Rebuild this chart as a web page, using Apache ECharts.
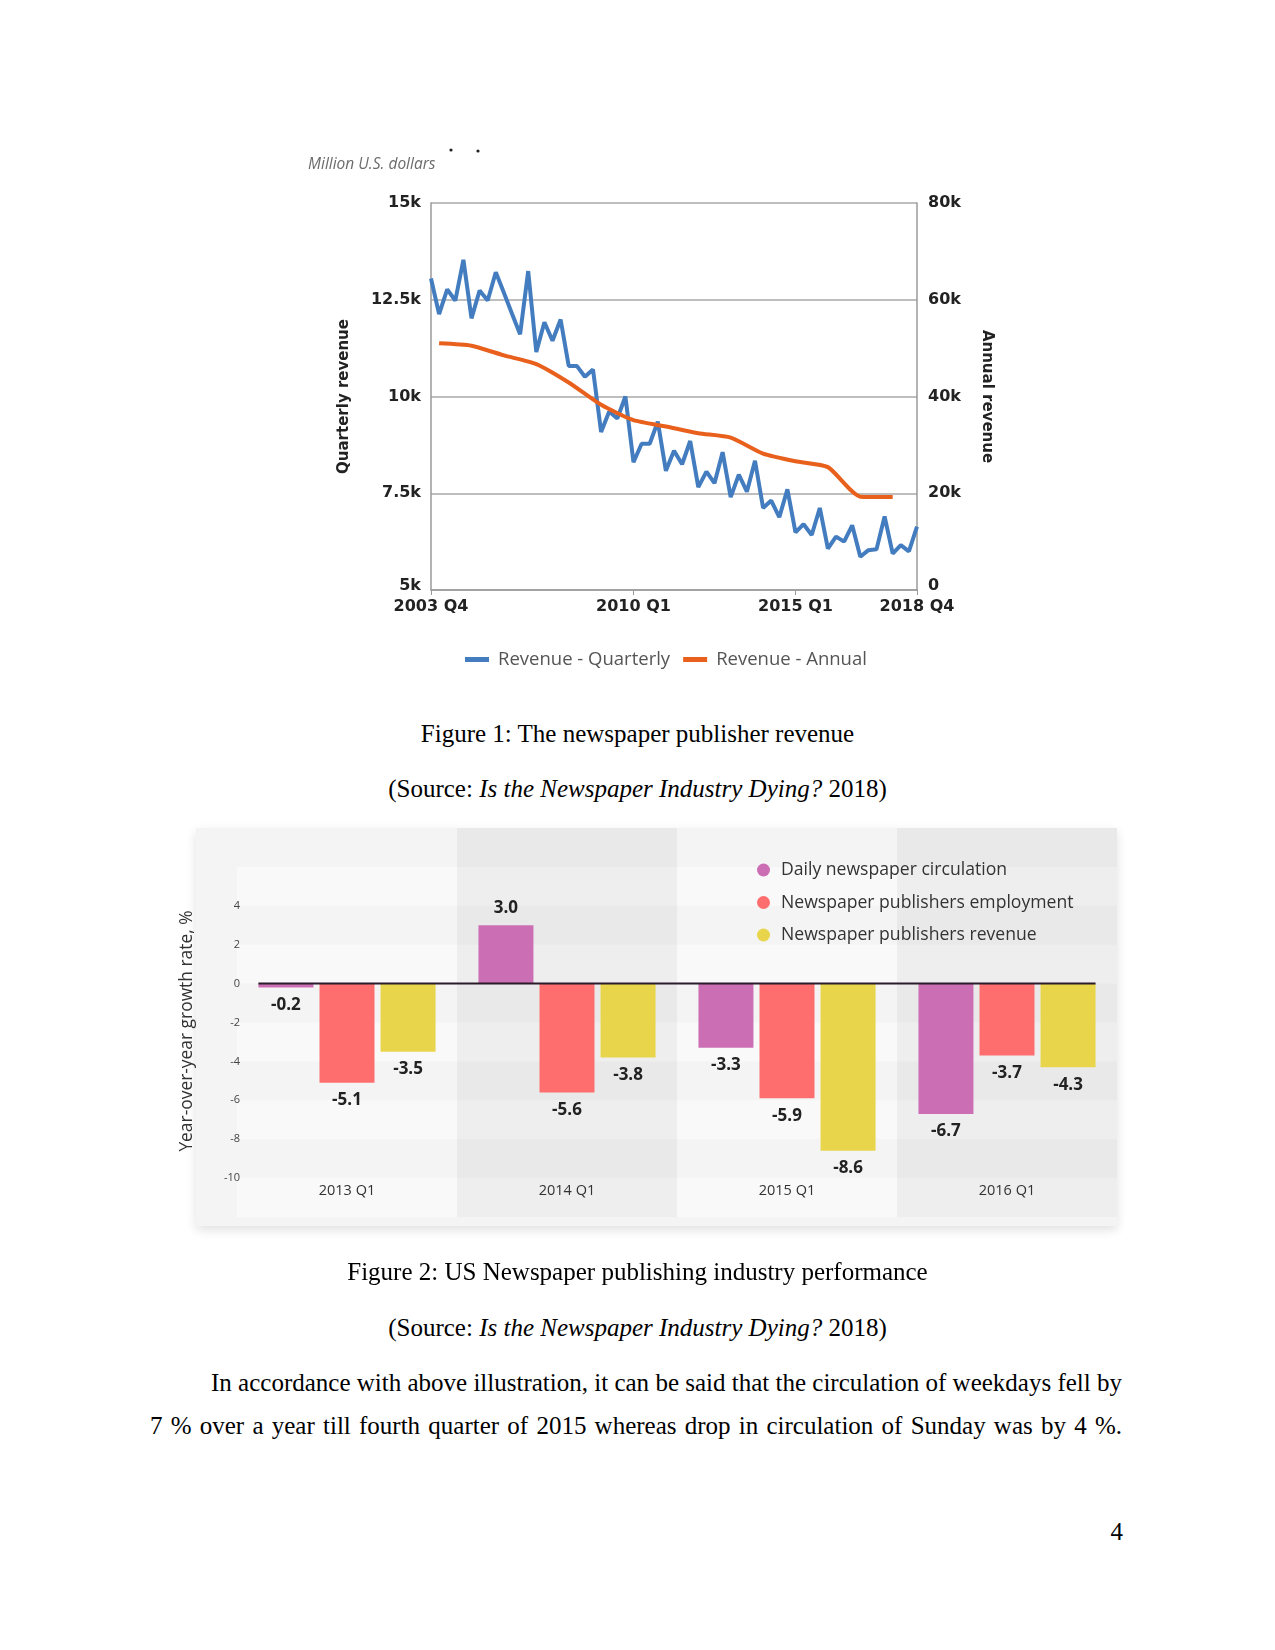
<!DOCTYPE html>
<html>
<head>
<meta charset="utf-8">
<script src="https://cdn.jsdelivr.net/npm/echarts@6/dist/echarts.min.js"></script>
<style>
  html, body { margin: 0; padding: 0; background: #fff; }
  body { width: 1275px; height: 1650px; position: relative; overflow: hidden; font-family: "Liberation Serif", "Times New Roman", serif; color: #000; }
  .abs { position: absolute; }
  .cap { position: absolute; left: 0; width: 1275px; text-align: center; font-size: 25px; line-height: 30px; white-space: nowrap; }
  .body-line { position: absolute; font-size: 25px; line-height: 30px; text-align: justify; text-align-last: justify; white-space: normal; }
  #paper { position: absolute; left: 196px; top: 828px; width: 921px; height: 398px; background: #f4f4f4; box-shadow: 0 4px 10px rgba(0,0,0,0.12); }
</style>
</head>
<body>
<div id="c1" class="abs" style="left:0;top:0;width:1275px;height:700px;"></div>
<div class="cap" style="top:719px;">Figure 1: The newspaper publisher revenue</div>
<div class="cap" style="top:774px;">(Source: <i>Is the Newspaper Industry Dying?</i> 2018)</div>
<div id="paper"></div>
<div id="c2" class="abs" style="left:0;top:800px;width:1275px;height:460px;"></div>
<div class="cap" style="top:1257px;">Figure 2: US Newspaper publishing industry performance</div>
<div class="cap" style="top:1313px;">(Source: <i>Is the Newspaper Industry Dying?</i> 2018)</div>
<div class="body-line" style="left:211px;width:911px;top:1368px;">In accordance with above illustration, it can be said that the circulation of weekdays fell by</div>
<div class="body-line" style="left:150px;width:972px;top:1411px;">7 % over a year till fourth quarter of 2015 whereas drop in circulation of Sunday was by 4 %.</div>
<div class="abs" style="left:1100px;top:1517px;width:23px;text-align:right;font-size:25px;line-height:30px;">4</div>
<script>
// ---------- Figure 1 data ----------
var quarters = [
  '2003 Q4',
  '2004 Q1','2004 Q2','2004 Q3','2004 Q4',
  '2005 Q1','2005 Q2','2005 Q3','2005 Q4',
  '2006 Q1','2006 Q2','2006 Q3','2006 Q4',
  '2007 Q1','2007 Q2','2007 Q3','2007 Q4',
  '2008 Q1','2008 Q2','2008 Q3','2008 Q4',
  '2009 Q1','2009 Q2','2009 Q3','2009 Q4',
  '2010 Q1','2010 Q2','2010 Q3','2010 Q4',
  '2011 Q1','2011 Q2','2011 Q3','2011 Q4',
  '2012 Q1','2012 Q2','2012 Q3','2012 Q4',
  '2013 Q1','2013 Q2','2013 Q3','2013 Q4',
  '2014 Q1','2014 Q2','2014 Q3','2014 Q4',
  '2015 Q1','2015 Q2','2015 Q3','2015 Q4',
  '2016 Q1','2016 Q2','2016 Q3','2016 Q4',
  '2017 Q1','2017 Q2','2017 Q3','2017 Q4',
  '2018 Q1','2018 Q2','2018 Q3','2018 Q4'
];
var quarterlyRevenue = [
  13050,
  12130, 12770, 12480, 13530,
  12020, 12740, 12480, 13210,
  12680, 12140, 11610, 13240,
  11150, 11920, 11440, 11990,
  10790, 10790, 10510, 10700,
  9080, 9610, 9430, 10000,
  8300, 8780, 8780, 9350,
  8080, 8600, 8250, 8850,
  7660, 8060, 7760, 8560,
  7400, 7980, 7540, 8340,
  7120, 7310, 6880, 7600,
  6490, 6700, 6420, 7120,
  6070, 6380, 6250, 6670,
  5860, 6030, 6050, 6900,
  5940, 6160, 6000, 6640
];
var annualPoints = ['2004 Q1','2005 Q1','2006 Q1','2007 Q1','2008 Q1','2009 Q1','2010 Q1','2011 Q1','2012 Q1','2013 Q1','2014 Q1','2015 Q1','2016 Q1','2017 Q1','2018 Q1'];
var annualRevenue = [51000, 50500, 48500, 46700, 42900, 38300, 35100, 33800, 32400, 31500, 28200, 26600, 25400, 19300, 19200];
var xTickLabels = ['2003 Q4', '2010 Q1', '2015 Q1', '2018 Q4'];
var leftTicks = [5000, 7500, 10000, 12500, 15000];
var rightTicks = [0, 20000, 40000, 60000, 80000];

// ---------- Figure 2 data ----------
var periods = ['2013 Q1', '2014 Q1', '2015 Q1', '2016 Q1'];
var circulation = [-0.2, 3.0, -3.3, -6.7];
var employment = [-5.1, -5.6, -5.9, -3.7];
var revenue = [-3.5, -3.8, -8.6, -4.3];
var growthTicks = [4, 2, 0, -2, -4, -6, -8, -10];

function kfmt(v) { return v === 0 ? '0' : (v / 1000) + 'k'; }

var boldFont = 'DejaVu Sans';
var c1 = echarts.init(document.getElementById('c1'));
c1.setOption({
  animation: false,
  graphic: [
    { type: 'text', left: 308, top: 157, style: { text: 'Million U.S. dollars', fill: '#6b6b6b', font: 'italic 15.5px "Open Sans"' } },
    { type: 'circle', shape: { cx: 451, cy: 150, r: 1.6 }, style: { fill: '#222' } },
    { type: 'circle', shape: { cx: 478, cy: 151, r: 1.6 }, style: { fill: '#222' } }
  ],
  grid: { left: 431, top: 203, width: 486, height: 387 },
  legend: {
    left: 460, top: 645, itemGap: 13, icon: 'rect', itemWidth: 24, itemHeight: 5,
    textStyle: { fontFamily: 'Open Sans', fontSize: 18.5, color: '#555', padding: [0, 0, 0, 4] },
    data: ['Revenue - Quarterly', 'Revenue - Annual']
  },
  xAxis: {
    type: 'category', data: quarters, boundaryGap: false,
    axisLine: { show: true, lineStyle: { color: '#9a9a9a', width: 1.5 } },
    axisTick: { show: true, length: 5, lineStyle: { color: '#9a9a9a' }, interval: function (i, v) { return xTickLabels.indexOf(v) >= 0; } },
    axisLabel: {
      interval: function (i, v) { return xTickLabels.indexOf(v) >= 0; },
      margin: 9, color: '#222', fontFamily: boldFont, fontWeight: 'bold', fontSize: 16
    },
    splitLine: { show: false }
  },
  yAxis: [
    {
      type: 'value', min: 5000, max: 15000, interval: 2500, position: 'left',
      name: 'Quarterly revenue', nameLocation: 'middle', nameGap: 79, nameRotate: 90,
      nameTextStyle: { fontFamily: boldFont, fontWeight: 'bold', fontSize: 15, color: '#222' },
      axisLine: { show: true, lineStyle: { color: '#9a9a9a', width: 1.5 } },
      axisTick: { show: false },
      axisLabel: {
        margin: 10, color: '#222', fontFamily: boldFont, fontWeight: 'bold', fontSize: 16,
        formatter: function (v) { return leftTicks.indexOf(v) < 0 ? '' : (v === leftTicks[0] ? '{lo|' + kfmt(v) + '}' : kfmt(v)); },
        rich: { lo: { padding: [0, 0, 8, 0], fontFamily: boldFont, fontWeight: 'bold', fontSize: 16, color: '#222' } }
      },
      splitLine: { show: true, lineStyle: { color: '#a8a8a8', width: 1.5 } }
    },
    {
      type: 'value', min: 0, max: 80000, interval: 20000, position: 'right',
      name: 'Annual revenue', nameLocation: 'middle', nameGap: 62, nameRotate: -90,
      nameTextStyle: { fontFamily: boldFont, fontWeight: 'bold', fontSize: 15, color: '#222' },
      axisLine: { show: true, lineStyle: { color: '#9a9a9a', width: 1.5 } },
      axisTick: { show: false },
      axisLabel: {
        margin: 11, color: '#222', fontFamily: boldFont, fontWeight: 'bold', fontSize: 16,
        formatter: function (v) { return rightTicks.indexOf(v) < 0 ? '' : (v === 0 ? '{lo|0}' : kfmt(v)); },
        rich: { lo: { padding: [0, 0, 8, 0], fontFamily: boldFont, fontWeight: 'bold', fontSize: 16, color: '#222' } }
      },
      splitLine: { show: false }
    }
  ],
  series: [
    {
      name: 'Revenue - Quarterly', type: 'line', yAxisIndex: 0, data: quarterlyRevenue,
      symbol: 'none', lineStyle: { color: '#437dbf', width: 4 }, itemStyle: { color: '#437dbf' }
    },
    {
      name: 'Revenue - Annual', type: 'line', yAxisIndex: 1,
      data: annualPoints.map(function (q, i) { return [q, annualRevenue[i]]; }),
      symbol: 'none', smooth: 0.2, lineStyle: { color: '#e8601c', width: 4 }, itemStyle: { color: '#e8601c' }
    }
  ]
});

var c2 = echarts.init(document.getElementById('c2'));
var sansFont = 'Open Sans';
var BAR_W = 55, BAR_GAP = 0.11;
var groupHalf = (3 * BAR_W + 2 * BAR_W * BAR_GAP) / 2;
function barData(arr) {
  return arr.map(function (v) { return { value: v, label: { position: v < 0 ? 'bottom' : 'top' } }; });
}
var barLabel = {
  show: true, distance: 9, color: '#222', fontFamily: sansFont, fontWeight: 'bold', fontSize: 17,
  formatter: function (p) { return p.value.toFixed(1); }
};
c2.setOption({
  animation: false,
  color: ['#cc6eb4', '#ff6e6e', '#e8d54b'],
  grid: { left: 237, top: 28, width: 880, height: 389 },
  legend: {
    orient: 'vertical', left: 752, top: 56, itemGap: 14.5, icon: 'circle', itemWidth: 13, itemHeight: 13,
    textStyle: { fontFamily: sansFont, fontSize: 17.6, color: '#333', padding: [0, 0, 0, 6] },
    data: ['Daily newspaper circulation', 'Newspaper publishers employment', 'Newspaper publishers revenue']
  },
  xAxis: [
    {
      type: 'category', data: periods,
      axisLine: { show: false }, axisTick: { show: false }, axisLabel: { show: false },
      splitArea: { show: true, areaStyle: { color: ['rgba(0,0,0,0)', 'rgba(0,0,0,0.045)'] } }
    },
    {
      type: 'category', data: periods, position: 'bottom', offset: -42,
      axisLine: { show: false }, axisTick: { show: false },
      axisLabel: { show: true, margin: 8, color: '#333', fontFamily: sansFont, fontSize: 14.5 }
    }
  ],
  yAxis: {
    type: 'value', min: -12, max: 8, interval: 2,
    name: 'Year-over-year growth rate, %', nameLocation: 'middle', nameGap: 41, nameRotate: 90,
    nameTextStyle: { fontFamily: sansFont, fontSize: 17.4, color: '#333', padding: [0, 17, 0, 0] },
    axisLine: { show: false }, axisTick: { show: false },
    axisLabel: {
      margin: -3, color: '#444', fontFamily: sansFont, fontSize: 11,
      formatter: function (v) { return growthTicks.indexOf(v) >= 0 ? String(v) : ''; }
    },
    splitLine: { show: false },
    splitArea: { show: true, areaStyle: { color: ['rgba(255,255,255,0.45)', 'rgba(255,255,255,0)'] } }
  },
  series: [
    { name: 'Daily newspaper circulation', type: 'bar', xAxisIndex: 0, barWidth: BAR_W, barGap: (BAR_GAP * 100) + '%', data: barData(circulation), label: barLabel },
    { name: 'Newspaper publishers employment', type: 'bar', xAxisIndex: 0, barWidth: BAR_W, barGap: (BAR_GAP * 100) + '%', data: barData(employment), label: barLabel },
    { name: 'Newspaper publishers revenue', type: 'bar', xAxisIndex: 0, barWidth: BAR_W, barGap: (BAR_GAP * 100) + '%', data: barData(revenue), label: barLabel },
    {
      // zero baseline spanning from the first bar to the last bar
      name: 'zero', type: 'custom', xAxisIndex: 0, z: 5, silent: true,
      data: periods.map(function (p) { return [p, 0]; }),
      renderItem: function (params, api) {
        var c = api.coord([api.value(0), 0]);
        var band = api.size([1, 0])[0];
        var n = periods.length;
        var x1 = params.dataIndex === 0 ? c[0] - groupHalf : c[0] - band / 2;
        var x2 = params.dataIndex === n - 1 ? c[0] + groupHalf : c[0] + band / 2;
        return { type: 'line', shape: { x1: x1, y1: c[1], x2: x2, y2: c[1] }, style: { stroke: '#2a1a2a', lineWidth: 2 } };
      }
    }
  ]
});
</script>
</body>
</html>
